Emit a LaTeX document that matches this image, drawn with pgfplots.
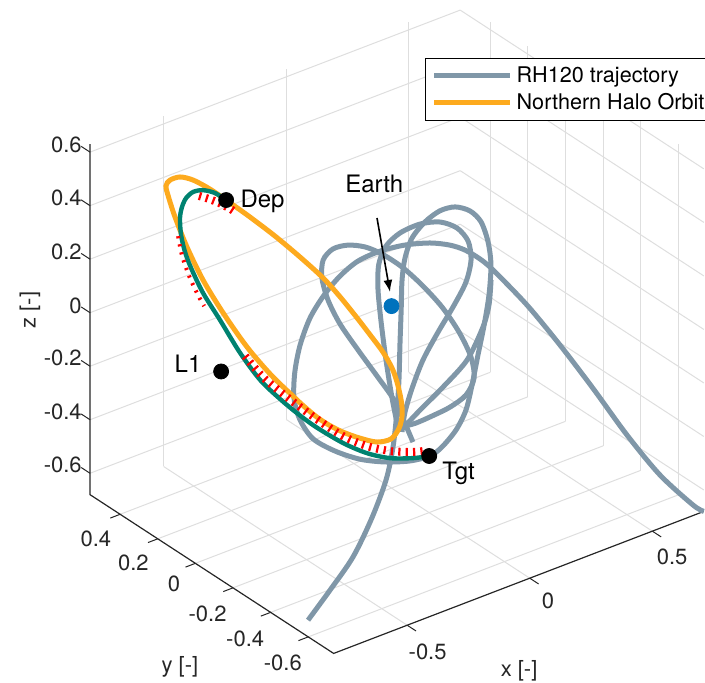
\documentclass[border=0pt]{standalone}
\usepackage{fontspec}
\setmainfont{TeX Gyre Heros}
\usepackage{pgfplots}
\pgfplotsset{compat=1.18}
\usetikzlibrary{arrows.meta}
\definecolor{trajgray}{RGB}{128,151,168}
\definecolor{haloorange}{RGB}{253,170,30}
\definecolor{transgreen}{RGB}{0,130,112}
\definecolor{earthblue}{RGB}{0,114,189}
\definecolor{gridgray}{RGB}{222,222,222}
\definecolor{axgray}{RGB}{38,38,38}
\begin{document}
\begin{tikzpicture}
\begin{axis}[
  x={(122.575pt,47.03pt)}, y={(-94.06pt,61.29pt)}, z={(0pt,133.8pt)},
  xmin=-0.8, xmax=0.71, ymin=-0.735, ymax=0.56, zmin=-0.68, zmax=0.63,
  xtick={-0.5,0,0.5}, xticklabels={-0.5,0,0.5},
  ytick={-0.6,-0.4,-0.2,0,0.2,0.4}, yticklabels={-0.6,-0.4,-0.2,0,0.2,0.4},
  ztick={-0.6,-0.4,-0.2,0,0.2,0.4,0.6}, zticklabels={-0.6,-0.4,-0.2,0,0.2,0.4,0.6},
  grid=major, major grid style={color=gridgray, line width=0.5pt},
  axis line style={draw=none},
  tick align=outside, major tick length=5.5pt,
  tick style={draw=none},
  zticklabel shift=-4pt,
  ticklabel style={font=\fontsize{11}{12}\selectfont, color=axgray},
  clip=false,
  legend style={at={(0.5458,0.9142)}, anchor=north west, draw=black, line width=0.6pt,
    fill=white, font=\fontsize{10.8}{12.5}\selectfont, inner xsep=3pt, inner ysep=2pt},
  legend cell align=left,
  legend image code/.code={\draw[#1] (0pt,0pt) -- (38pt,0pt);},
]
\coordinate (O) at (axis cs:0,0,0);
% axis lines and tick marks
\draw[axgray, line width=0.6pt] (axis cs:-0.8,0.56,0.63) -- (axis cs:-0.8,0.56,-0.68) -- (axis cs:-0.8,-0.735,-0.68) -- (axis cs:0.71,-0.735,-0.68);
\pgfplotsinvokeforeach{-0.6,-0.4,-0.2,0,0.2,0.4,0.6}{
  \draw[axgray, line width=0.5pt] (axis cs:-0.8,0.56,#1) -- (axis cs:-0.8,0.607,#1);
}
\pgfplotsinvokeforeach{-0.6,-0.4,-0.2,0,0.2,0.4}{
  \draw[axgray, line width=0.5pt] (axis cs:-0.8,#1,-0.68) -- (axis cs:-0.84,#1,-0.68);
}
\pgfplotsinvokeforeach{-0.5,0,0.5}{
  \draw[axgray, line width=0.5pt] (axis cs:#1,-0.735,-0.68) -- (axis cs:#1,-0.782,-0.68);
}

% RH120 trajectory
\addplot3[trajgray, line width=2.5pt, smooth] coordinates {
(-0.761,-0.548,-0.655) (-0.648,-0.518,-0.596) (-0.520,-0.473,-0.538) (-0.391,-0.405,-0.469)
(-0.280,-0.336,-0.397) (-0.188,-0.253,-0.345) (-0.117,-0.181,-0.272) (-0.054,-0.110,-0.207)
(-0.017,-0.067,-0.109) (0.021,-0.024,-0.011) (0.053,0.013,0.073) (0.082,0.035,0.135)
(0.120,0.047,0.191) (0.169,0.042,0.236) (0.218,0.027,0.267) (0.261,0.002,0.278)
(0.295,-0.033,0.267) (0.313,-0.068,0.236) (0.311,-0.108,0.180) (0.296,-0.143,0.115)
(0.261,-0.178,0.031) (0.219,-0.207,-0.053) (0.174,-0.233,-0.137) (0.129,-0.260,-0.221)
(0.089,-0.280,-0.291) (0.044,-0.286,-0.347) (-0.009,-0.280,-0.395) (-0.049,-0.268,-0.420)
(-0.105,-0.235,-0.434)
(-0.170,-0.187,-0.437) (-0.232,-0.134,-0.429) (-0.288,-0.075,-0.406) (-0.332,-0.016,-0.372)
(-0.347,0.034,-0.319) (-0.341,0.074,-0.258) (-0.313,0.106,-0.185) (-0.273,0.130,-0.109)
(-0.221,0.145,-0.033) (-0.162,0.147,0.031) (-0.103,0.140,0.084) (-0.042,0.124,0.126)
(0.025,0.093,0.154) (0.095,0.052,0.171) (0.161,0.005,0.177) (0.210,-0.037,0.171)
(0.244,-0.073,0.157) (0.279,-0.107,0.127) (0.307,-0.140,0.091) (0.370,-0.238,-0.017)
(0.431,-0.334,-0.144) (0.489,-0.433,-0.280) (0.546,-0.540,-0.426) (0.607,-0.636,-0.553)
(0.678,-0.719,-0.652) (0.710,-0.735,-0.680)
};
\addlegendentry{RH120 trajectory}
\addplot3[trajgray, line width=2.5pt, smooth, forget plot] coordinates {
(-0.079,-0.217,-0.381) (-0.081,-0.178,-0.330) (-0.086,-0.125,-0.263) (-0.105,-0.064,-0.199)
(-0.129,0.010,-0.123) (-0.150,0.078,-0.050) (-0.157,0.133,0.017) (-0.151,0.173,0.079)
(-0.130,0.194,0.129) (-0.094,0.189,0.160) (-0.052,0.164,0.171) (-0.010,0.128,0.166)
(0.027,0.086,0.146) (0.065,0.030,0.110) (0.099,-0.033,0.059) (0.129,-0.101,-0.003)
(0.148,-0.166,-0.073) (0.154,-0.222,-0.143) (0.141,-0.255,-0.202) (0.104,-0.261,-0.249)
(0.051,-0.245,-0.283) (-0.004,-0.221,-0.308) (-0.052,-0.198,-0.328) (-0.083,-0.181,-0.336)
};
\addplot3[trajgray, line width=2.5pt, smooth, forget plot] coordinates {
(-0.103,-0.169,-0.342) (-0.089,-0.119,-0.258) (-0.067,-0.058,-0.151) (-0.041,0.003,-0.039)
(-0.017,0.050,0.051) (0.009,0.079,0.118) (0.045,0.088,0.168) (0.094,0.077,0.205)
(0.154,0.049,0.230) (0.207,0.012,0.236) (0.245,-0.029,0.219) (0.261,-0.067,0.182)
(0.250,-0.097,0.129) (0.215,-0.116,0.068) (0.162,-0.122,0.003) (0.094,-0.125,-0.073)
(0.028,-0.131,-0.151) (-0.028,-0.146,-0.230) (-0.070,-0.163,-0.297) (-0.097,-0.182,-0.353)
};
\addplot3[trajgray, line width=2.5pt, smooth, forget plot] coordinates {
(0.281,-0.163,0.073) (0.251,-0.191,0.003) (0.214,-0.207,-0.059) (0.141,-0.218,-0.151)
(0.053,-0.205,-0.227) (-0.029,-0.190,-0.291) (-0.080,-0.181,-0.333)
};

% Northern halo orbit
\addplot3[haloorange, line width=2.5pt, smooth] coordinates {
(-0.515,0.208,0.482) (-0.471,0.139,0.435) (-0.425,0.065,0.381) (-0.382,-0.011,0.323)
(-0.343,-0.083,0.264) (-0.318,-0.141,0.211) (-0.295,-0.201,0.152) (-0.276,-0.255,0.098)
(-0.262,-0.296,0.056) (-0.255,-0.335,0.012) (-0.256,-0.363,-0.028) (-0.263,-0.394,-0.078)
(-0.275,-0.415,-0.120) (-0.296,-0.426,-0.157) (-0.327,-0.424,-0.187) (-0.366,-0.400,-0.196)
(-0.406,-0.362,-0.185) (-0.444,-0.320,-0.168) (-0.473,-0.284,-0.148) (-0.496,-0.250,-0.126)
(-0.517,-0.213,-0.098) (-0.537,-0.176,-0.067) (-0.572,-0.105,-0.008) (-0.606,-0.022,0.070)
(-0.634,0.069,0.166) (-0.653,0.151,0.258) (-0.662,0.225,0.351) (-0.663,0.287,0.435)
(-0.660,0.327,0.494) (-0.656,0.344,0.522) (-0.640,0.344,0.538) (-0.611,0.328,0.547)
(-0.580,0.299,0.538) (-0.546,0.254,0.513) (-0.515,0.208,0.482)
};
\addlegendentry{Northern Halo Orbit}

% transfer arc
\addplot3[transgreen, line width=2.2pt, smooth, forget plot] coordinates {
(-0.515,0.208,0.482) (-0.537,0.239,0.502) (-0.565,0.266,0.510) (-0.592,0.283,0.505)
(-0.616,0.289,0.488) (-0.635,0.286,0.463) (-0.651,0.276,0.432) (-0.665,0.252,0.384)
(-0.672,0.222,0.337) (-0.672,0.190,0.292) (-0.666,0.134,0.222) (-0.649,0.066,0.146)
(-0.630,-0.016,0.054) (-0.605,-0.090,-0.022) (-0.573,-0.154,-0.075) (-0.543,-0.205,-0.115)
(-0.508,-0.261,-0.154) (-0.454,-0.334,-0.199) (-0.403,-0.395,-0.227) (-0.349,-0.446,-0.241)
(-0.289,-0.492,-0.241) (-0.246,-0.521,-0.235)
};
% thrust arcs
\addplot3[red, line width=4pt, dash pattern=on 1.1pt off 2.4pt, smooth, forget plot] coordinates {
(-0.581,0.266,0.494) (-0.558,0.243,0.485) (-0.536,0.218,0.474) (-0.516,0.192,0.460) (-0.504,0.175,0.449)
};
\addplot3[red, line width=2pt, dash pattern=on 1.1pt off 3pt, smooth, forget plot] coordinates {
(-0.674,0.256,0.381) (-0.683,0.224,0.328) (-0.685,0.183,0.269) (-0.681,0.141,0.216) (-0.676,0.115,0.185)
};
\addplot3[red, line width=4pt, dash pattern=on 1.1pt off 2.6pt, smooth, forget plot] coordinates {
(-0.620,-0.030,0.045) (-0.595,-0.092,-0.014) (-0.560,-0.153,-0.061) (-0.529,-0.203,-0.098)
(-0.496,-0.256,-0.134) (-0.448,-0.325,-0.179) (-0.396,-0.386,-0.207) (-0.342,-0.437,-0.221)
(-0.286,-0.482,-0.224) (-0.254,-0.504,-0.221)
};

% points
\addplot3[only marks, mark=*, mark size=3.75pt, black, forget plot] coordinates {
(-0.515,0.208,0.482) (-0.246,-0.521,-0.235) (-0.695,0,0)
};
\addplot3[only marks, mark=*, mark size=3.75pt, earthblue, forget plot] coordinates {(0,0,0)};

\node[anchor=base west, inner sep=0pt, font=\fontsize{12}{14}\selectfont] at (axis cs:-0.292,0.424,0.275) {Dep};
\node[anchor=base east, inner sep=0pt, font=\fontsize{12}{14}\selectfont] at (axis cs:-0.552,0.289,-0.185) {L1};
\node[anchor=base west, inner sep=0pt, font=\fontsize{12}{14}\selectfont] at (axis cs:-0.042,-0.323,-0.487) {Tgt};
\node[anchor=base west, inner sep=0pt, font=\fontsize{12}{14}\selectfont] at (axis cs:-0.008,0.237,0.317) {Earth};
\draw[-{Latex[length=6pt,width=4.5pt]}, line width=0.8pt] (axis cs:0.0496,0.1417,0.2469) -- (axis cs:0.0100,0.0211,0.0395);

\node[font=\fontsize{11}{13}\selectfont, color=axgray] at (axis cs:-0.032,-0.720,-1.023) {x [-]};
\node[font=\fontsize{11}{13}\selectfont, color=axgray] at (axis cs:-0.899,-0.047,-1.012) {y [-]};
\node[font=\fontsize{11}{13}\selectfont, color=axgray, rotate=90] at (axis cs:-0.932,0.707,-0.011) {z [-]};
\end{axis}
\pgfresetboundingbox
\useasboundingbox (O) ++(-195.75pt,153.05pt) rectangle ++(352.5pt,-341pt);
\end{tikzpicture}
\end{document}
